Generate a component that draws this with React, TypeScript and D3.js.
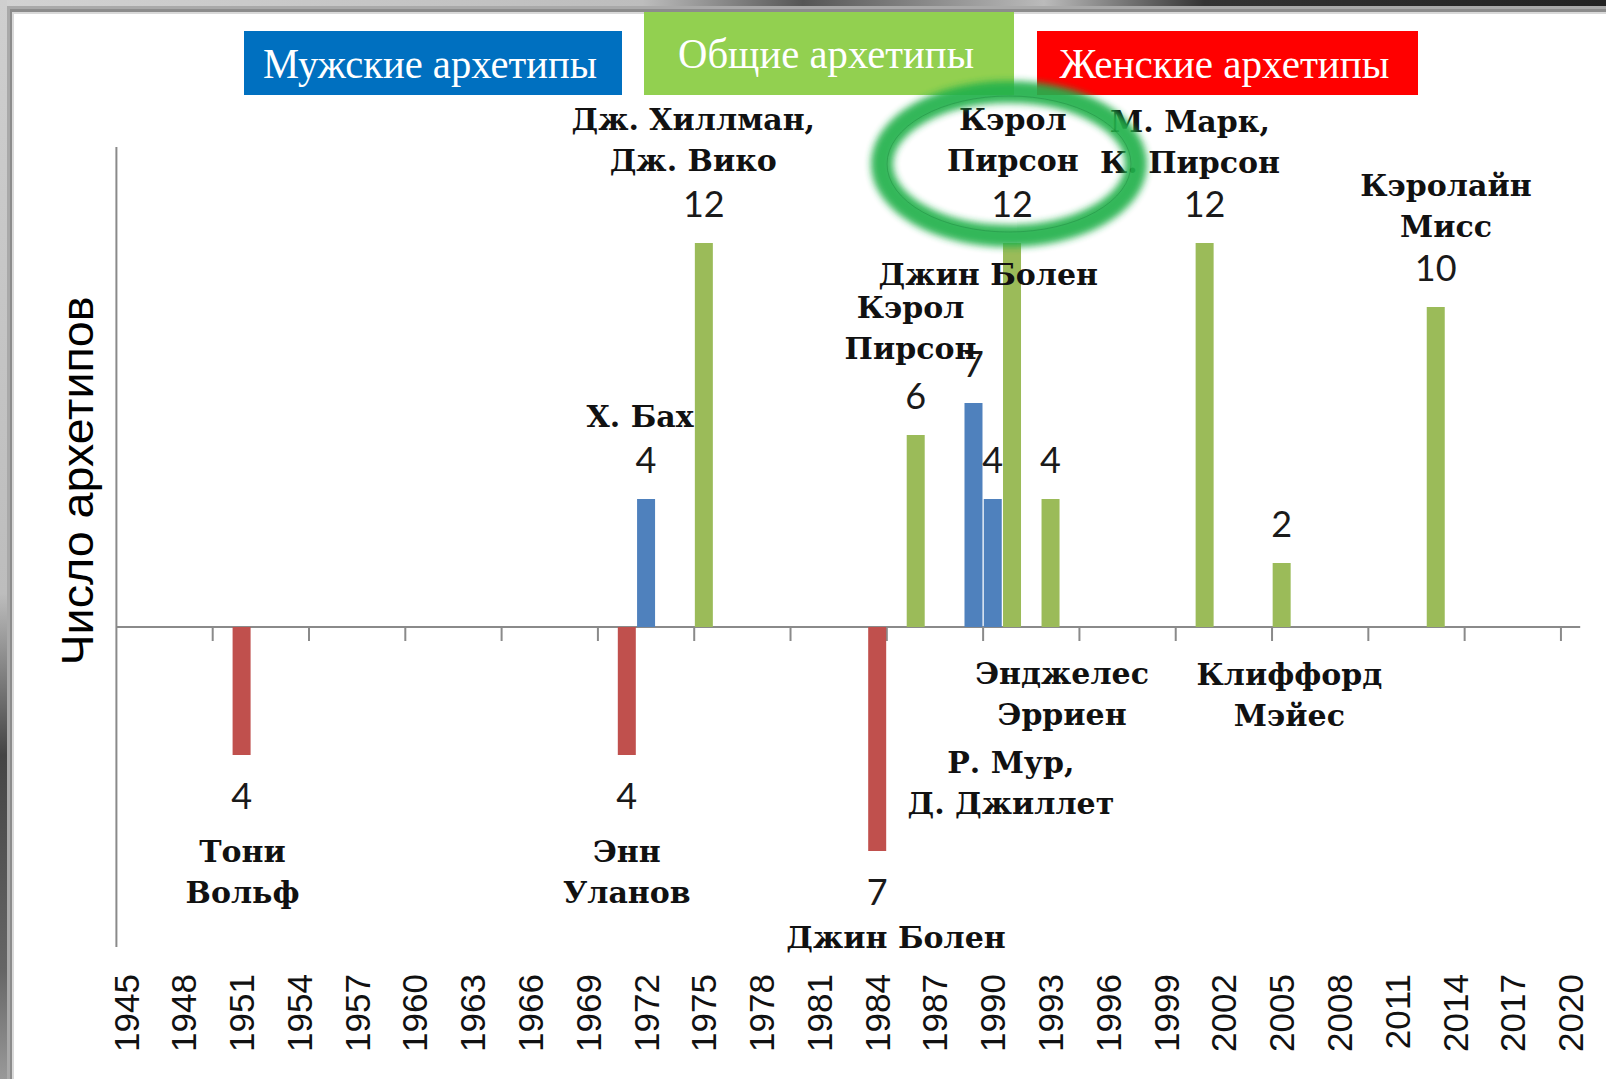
import React from 'react';
import * as d3 from 'd3';

// Archetype models by year (bars above axis: male / general, below axis: female)
const maleYears = [1972, 1989, 1990];
const maleValues = [4, 7, 4];

const generalYears = [1975, 1986, 1991, 1993, 2001, 2005, 2013];
const generalValues = [12, 6, 12, 4, 12, 2, 10];

const femaleYears = [1951, 1971, 1984];
const femaleValues = [4, 4, 7];

const yearLabels = [1945, 1948, 1951, 1954, 1957, 1960, 1963, 1966, 1969, 1972, 1975, 1978,
  1981, 1984, 1987, 1990, 1993, 1996, 1999, 2002, 2005, 2008, 2011, 2014, 2017, 2020];
const tickYears = [1950, 1955, 1960, 1965, 1970, 1975, 1980, 1985, 1990, 1995, 2000, 2005, 2010, 2015, 2020];

const legendLabels = ['Мужские архетипы', 'Общие архетипы', 'Женские архетипы'];
const yAxisTitle = 'Число архетипов';

// author annotations: position in (year, value) units
const nameLabels = [
  { year: 1974.45, value: 15.88, lines: ['Дж. Хиллман,', 'Дж. Вико'] },
  { year: 1991.04, value: 15.88, lines: ['Кэрол', 'Пирсон'] },
  { year: 2000.24, value: 15.82, lines: ['М. Марк,', 'К. Пирсон'] },
  { year: 2013.53, value: 13.8, lines: ['Кэролайн', 'Мисс'] },
  { year: 1989.77, value: 11.02, lines: ['Джин Болен'] },
  { year: 1985.73, value: 9.99, lines: ['Кэрол', 'Пирсон'] },
  { year: 1971.69, value: 6.6, lines: ['Х. Бах'] },
  { year: 1951.05, value: -7.0, lines: ['Тони', 'Вольф'] },
  { year: 1971.0, value: -7.0, lines: ['Энн', 'Уланов'] },
  { year: 1984.98, value: -9.69, lines: ['Джин Болен'] },
  { year: 1993.6, value: -1.43, lines: ['Энджелес', 'Эрриен'] },
  { year: 2005.4, value: -1.47, lines: ['Клиффорд', 'Мэйес'] },
  { year: 1990.94, value: -4.22, lines: ['Р. Мур,', 'Д. Джиллет'] },
];

const W = 1606;
const H = 1079;

export default function App() {
  const x = d3.scaleLinear().domain([1944.5, 2020.5]).range([116.4, 1580.2]);
  const y = d3.scaleLinear().domain([-10, 15]).range([947, 147]);
  const barW = 18;
  const y0 = y(0);

  const male = maleYears.map((yr, i) => ({ yr, v: maleValues[i] }));
  const general = generalYears.map((yr, i) => ({ yr, v: generalValues[i] }));
  const female = femaleYears.map((yr, i) => ({ yr, v: -femaleValues[i] }));

  const series = [
    { data: male, color: '#4f81bd' },
    { data: general, color: '#9bbb59' },
    { data: female, color: '#c0504d' },
  ];

  const legend = [
    { x0: 244, x1: 622, y0: 31, y1: 95, color: '#0070c0', len: 334 },
    { x0: 644, x1: 1014, y0: 12, y1: 95, color: '#92d050', len: 296 },
    { x0: 1037, x1: 1418, y0: 31, y1: 95, color: '#ff0000', len: 330 },
  ];

  const nameFont = '"DejaVu Serif", serif';

  return (
    <svg width={W} height={H} style={{ position: 'absolute', left: 0, top: 0 }}>
      <defs>
        <linearGradient id="topStrip" x1="0" x2="1" y1="0" y2="0">
          <stop offset="0" stopColor="#d2d2d2" />
          <stop offset="0.4" stopColor="#bdbdbd" />
          <stop offset="0.5" stopColor="#555" />
          <stop offset="0.65" stopColor="#bbb" />
          <stop offset="0.75" stopColor="#333" />
          <stop offset="1" stopColor="#222" />
        </linearGradient>
        <linearGradient id="leftStrip" x1="0" x2="0" y1="0" y2="1">
          <stop offset="0" stopColor="#cfcfcf" />
          <stop offset="0.55" stopColor="#bdbdbd" />
          <stop offset="0.7" stopColor="#444" />
          <stop offset="0.9" stopColor="#666" />
          <stop offset="1" stopColor="#999" />
        </linearGradient>
        <filter id="glow" x="-20%" y="-30%" width="140%" height="160%">
          <feGaussianBlur stdDeviation="3.5" />
        </filter>
      </defs>

      {/* slide frame */}
      <rect x={0} y={0} width={W} height={H} fill="#c8c8c8" />
      <rect x={0} y={0} width={W} height={6} fill="url(#topStrip)" />
      <rect x={0} y={0} width={7} height={H} fill="url(#leftStrip)" />
      <rect x={7} y={6} width={W - 7} height={H - 6} fill="#a9a9a9" />
      <rect x={10} y={9} width={W - 10} height={H - 9} fill="#8c8c8c" />
      <rect x={12} y={12} width={W - 12} height={H - 12} fill="#d9d9d9" />
      <rect x={14} y={14} width={W - 14} height={H - 14} fill="#ffffff" />

      {/* y axis title */}
      <text
        transform={`translate(77,481) rotate(-90)`}
        textAnchor="middle"
        dominantBaseline="central"
        fontFamily='"Liberation Sans", Arial, sans-serif'
        fontSize={44}
        textLength={369}
        lengthAdjust="spacingAndGlyphs"
        fill="#000"
      >
        {yAxisTitle}
      </text>

      {/* axes */}
      <line x1={x(1944.5)} x2={x(1944.5)} y1={y(15)} y2={y(-10)} stroke="#8a8a8a" strokeWidth={2} />
      <line x1={x(1944.5)} x2={x(2020.5)} y1={y0} y2={y0} stroke="#8a8a8a" strokeWidth={2} />
      {tickYears.map(t => (
        <line key={t} x1={x(t - 0.5)} x2={x(t - 0.5)} y1={y0} y2={y0 + 14} stroke="#8a8a8a" strokeWidth={2} />
      ))}

      {/* year labels */}
      {yearLabels.map(t => (
        <text
          key={t}
          transform={`translate(${x(t)},974) rotate(-90)`}
          textAnchor="end"
          dominantBaseline="central"
          fontFamily='"Liberation Sans", Arial, sans-serif'
          fontSize={35}
          fill="#111"
        >
          {t}
        </text>
      ))}

      {/* bars */}
      {series.map((s, si) => (
        <g key={si}>
          {s.data.map(d => (
            <rect
              key={d.yr}
              x={x(d.yr) - barW / 2}
              y={Math.min(y(d.v), y0)}
              width={barW}
              height={Math.abs(y(d.v) - y0)}
              fill={s.color}
            />
          ))}
        </g>
      ))}

      {/* value labels */}
      {series.map((s, si) => (
        <g key={`v${si}`}>
          {s.data.map(d => (
            <text
              key={d.yr}
              x={x(d.yr)}
              y={y(d.v) + (d.v > 0 ? -40 : 40)}
              textAnchor="middle"
              dominantBaseline="central"
              fontFamily='Lato, "Liberation Sans", sans-serif'
              fontSize={36}
              fill="#1a1a1a"
            >
              {Math.abs(d.v)}
            </text>
          ))}
        </g>
      ))}

      {/* name labels */}
      {nameLabels.map((n, i) => (
        <text
          key={i}
          x={x(n.year)}
          y={y(n.value)}
          textAnchor="middle"
          dominantBaseline="central"
          fontFamily={nameFont}
          fontWeight="bold"
          fontSize={30}
          fill="#111"
        >
          {n.lines.map((l, j) => (
            <tspan key={j} x={x(n.year)} dy={j === 0 ? 0 : 41}>
              {l}
            </tspan>
          ))}
        </text>
      ))}

      {/* legend boxes */}
      {legend.map((b, i) => (
        <g key={i}>
          <rect x={b.x0} y={b.y0} width={b.x1 - b.x0} height={b.y1 - b.y0} fill={b.color} />
          <text
            x={(b.x0 + b.x1) / 2 - 3}
            y={i === 1 ? 54 : 64}
            textAnchor="middle"
            dominantBaseline="central"
            fontFamily='"Liberation Serif", "Times New Roman", serif'
            fontSize={42}
            textLength={b.len}
            lengthAdjust="spacingAndGlyphs"
            fill="#ffffff"
          >
            {legendLabels[i]}
          </text>
        </g>
      ))}

      {/* highlight ring */}
      <g opacity={0.92}>
        <ellipse cx={1009} cy={164} rx={127} ry={72} fill="none" stroke="#22b14c" strokeWidth={22} filter="url(#glow)" />
        <ellipse cx={1009} cy={164} rx={122} ry={68} fill="none" stroke="#148a38" strokeWidth={1} opacity={0.6} />
      </g>
    </svg>
  );
}
